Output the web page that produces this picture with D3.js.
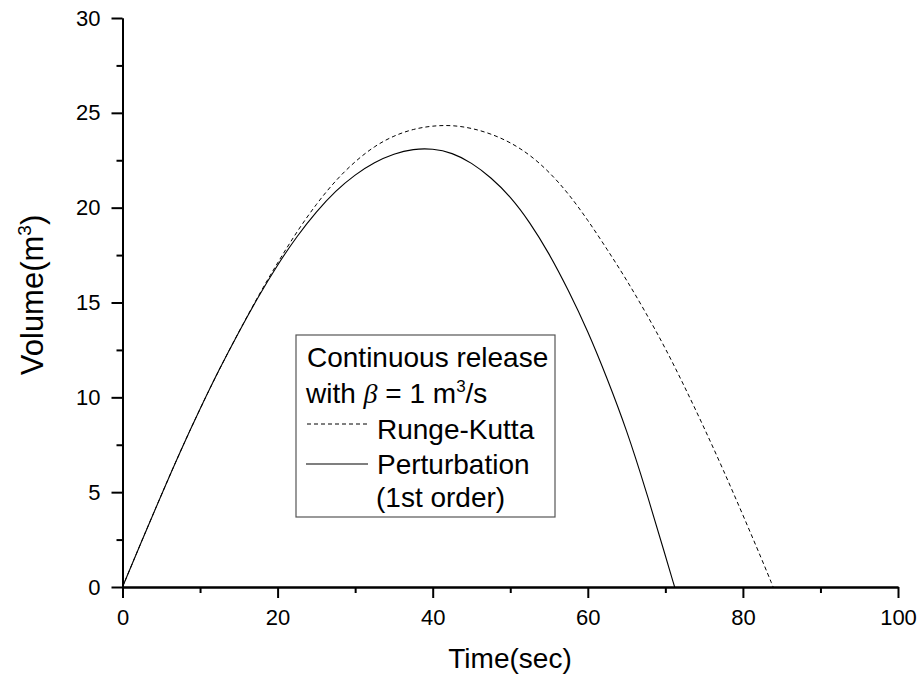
<!DOCTYPE html>
<html lang="en">
<head>
    <meta charset="UTF-8">
    <title>Volume vs Time</title>
    <script src="https://cdnjs.cloudflare.com/ajax/libs/d3/7.8.5/d3.min.js"></script>
    <style>
        body{margin:0; background:#fff;}
        svg{display:block; font-family: Arial, "Liberation Sans", sans-serif;}
        .axis path, .axis line{stroke:#000; stroke-width:2px;}
        .axis text{font-size:22px; fill:#000;}
        .lg{font-size:28px;}
    </style>
</head>
<body>
    <svg id="chart" width="921" height="676"></svg>
    <script>
        // time (sec) sample points and volumes (m^3)
        var rkTime  = [0,2.5,5,7.5,10,12.5,15,17.5,20,22.5,25,27.5,30,32.5,35,37.5,40,42.5,45,47.5,50,52.5,55,57.5,60,62.5,65,67.5,70,72.5,75,77.5,80,82.5,83.9];
        var rkVol   = [0,2.45,4.85,7.2,9.4,11.5,13.45,15.35,17.1,18.75,20.2,21.45,22.45,23.25,23.8,24.15,24.32,24.35,24.2,23.9,23.45,22.8,21.9,20.75,19.35,17.8,16.2,14.45,12.6,10.55,8.4,6.15,3.8,1.4,0];

        var ptTime  = [0,2.5,5,7.5,10,12.5,15,17.5,20,22.5,25,27.5,30,32.5,35,37.5,40,42.5,45,47.5,50,52.5,55,57.5,60,62.5,65,67.5,70,71.2];
        var ptVol   = [0,2.45,4.85,7.2,9.4,11.5,13.45,15.3,17.0,18.5,19.8,20.9,21.75,22.4,22.85,23.1,23.12,22.9,22.38,21.6,20.6,19.25,17.6,15.65,13.5,11.0,8.3,5.1,1.65,0];

        var xMajor = [0,20,40,60,80,100];
        var xMinor = [10,30,50,70,90];
        var yMajor = [0,5,10,15,20,25,30];
        var yMinor = [2.5,7.5,12.5,17.5,22.5,27.5];

        var svg = d3.select("#chart");

        var xScale = d3.scaleLinear().domain([0,100]).range([122.5,898]);
        var yScale = d3.scaleLinear().domain([0,30]).range([587,18]);

        // minor ticks first, majors with labels on top
        svg.append("g").attr("class","axis")
           .attr("transform","translate(0,587)")
           .call(d3.axisBottom(xScale).tickValues(xMinor).tickSize(6).tickSizeOuter(0).tickFormat(""));
        svg.append("g").attr("class","axis")
           .attr("transform","translate(0,587)")
           .call(d3.axisBottom(xScale).tickValues(xMajor).tickSize(11).tickSizeOuter(0).tickPadding(11));

        svg.append("g").attr("class","axis")
           .attr("transform","translate(122.5,0)")
           .call(d3.axisLeft(yScale).tickValues(yMinor).tickSize(6).tickSizeOuter(0).tickFormat(""));
        svg.append("g").attr("class","axis")
           .attr("transform","translate(122.5,0)")
           .call(d3.axisLeft(yScale).tickValues(yMajor).tickSize(11).tickSizeOuter(0).tickPadding(11));

        var line = d3.line()
            .x(function(d){ return xScale(d[0]); })
            .y(function(d){ return yScale(d[1]); })
            .curve(d3.curveBasis);

        var rkData = rkTime.map(function(t,i){ return [t, rkVol[i]]; });
        var ptData = ptTime.map(function(t,i){ return [t, ptVol[i]]; });

        svg.append("path").datum(rkData)
           .attr("d", line)
           .attr("fill","none").attr("stroke","#000").attr("stroke-width",1)
           .attr("stroke-dasharray","4,3");
        svg.append("path").datum(ptData)
           .attr("d", line)
           .attr("fill","none").attr("stroke","#000").attr("stroke-width",1.1);

        // axis titles
        svg.append("text")
           .attr("x",510).attr("y",668)
           .attr("text-anchor","middle")
           .style("font-size","28px")
           .text("Time(sec)");

        var yt = svg.append("text")
           .attr("transform","translate(43,295) rotate(-90)")
           .attr("text-anchor","middle")
           .style("font-size","31px");
        yt.append("tspan").text("Volume(m");
        yt.append("tspan").attr("dy",-12).style("font-size","19px").text("3");
        yt.append("tspan").attr("dy",12).text(")");

        // legend
        var lg = svg.append("g");
        lg.append("rect")
          .attr("x",296).attr("y",335).attr("width",259).attr("height",182)
          .attr("fill","#fff").attr("stroke","#555").attr("stroke-width",1.2);

        lg.append("text").attr("class","lg").attr("x",307).attr("y",367)
          .text("Continuous release");

        var t2 = lg.append("text").attr("class","lg").attr("x",306).attr("y",403);
        t2.append("tspan").text("with ");
        t2.append("tspan").style("font-family","'Liberation Serif', 'DejaVu Serif', serif")
          .style("font-style","italic").text("\u03B2");
        t2.append("tspan").text(" = 1 m");
        t2.append("tspan").attr("dy",-11).style("font-size","17px").text("3");
        t2.append("tspan").attr("dy",11).text("/s");

        lg.append("line").attr("x1",307).attr("x2",368).attr("y1",424).attr("y2",424)
          .attr("stroke","#000").attr("stroke-width",1).attr("stroke-dasharray","4,3");
        lg.append("text").attr("class","lg").attr("x",377).attr("y",439).text("Runge-Kutta");

        lg.append("line").attr("x1",306).attr("x2",368).attr("y1",464).attr("y2",464)
          .attr("stroke","#000").attr("stroke-width",1.1);
        lg.append("text").attr("class","lg").attr("x",377).attr("y",474).text("Perturbation");
        lg.append("text").attr("class","lg").attr("x",376).attr("y",507).text("(1st order)");
    </script>
</body>
</html>
